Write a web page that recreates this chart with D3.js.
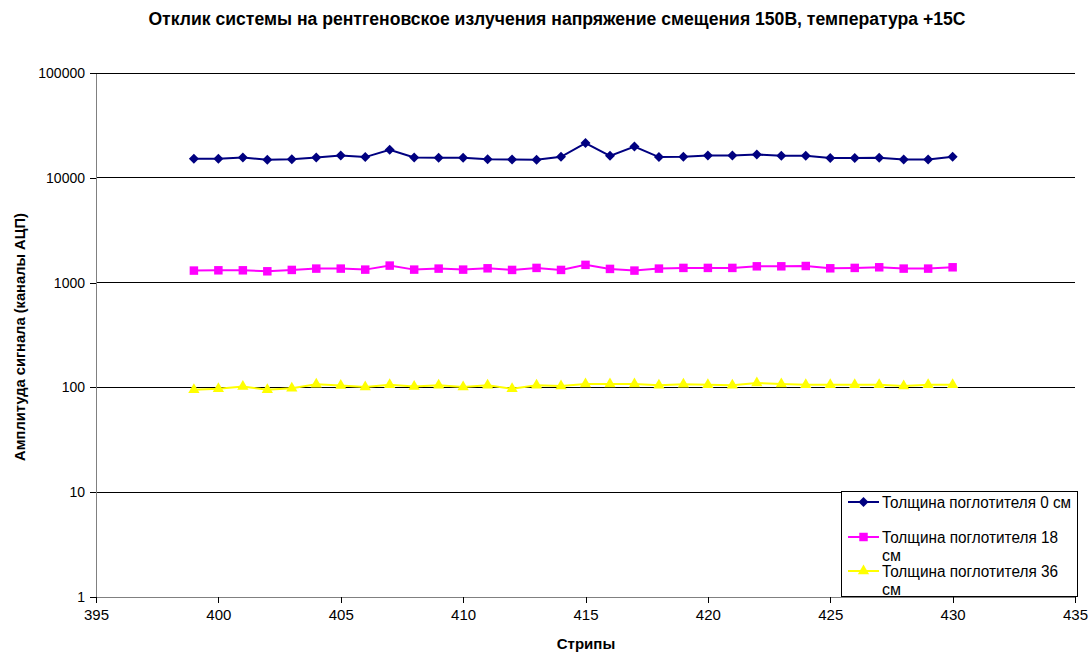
<!DOCTYPE html>
<html>
<head>
<meta charset="utf-8">
<script src="https://cdn.jsdelivr.net/npm/d3@7"></script>
<style>
  html, body { margin: 0; padding: 0; background: #fff; }
  svg { display: block; font-family: "Liberation Sans", Arial, sans-serif; }
</style>
</head>
<body>
<svg id="chart" width="1090" height="654"></svg>
<script>
// Strip numbers along the detector
const strips = [399,400,401,402,403,404,405,406,407,408,409,410,411,412,413,414,
                415,416,417,418,419,420,421,422,423,424,425,426,427,428,429,430];

// Signal amplitude (ADC channels) for each absorber thickness
const absorber0 = [15180,15180,15620,14850,15070,15620,16320,15760,18490,15620,15510,15510,15070,14950,14850,15870,
                   21430,16210,19890,15760,15870,16320,16320,16690,16210,16210,15420,15420,15510,14950,14950,15870];
const absorber18 = [1302,1310,1310,1282,1321,1360,1360,1330,1453,1330,1360,1330,1369,1321,1381,1321,
                    1476,1351,1302,1360,1381,1381,1381,1430,1430,1440,1369,1381,1400,1360,1360,1400];
const absorber36 = [95,97,102,95,98,107,104,101,106,102,105,101,105,97,105,103,
                    108,108,108,105,107,106,105,110,108,106,106,106,106,103,106,106];

const seriesNames = ["Толщина поглотителя 0 см", "Толщина поглотителя 18 см", "Толщина поглотителя 36 см"];
const xTicks = [395,400,405,410,415,420,425,430,435];
const yTicks = [1,10,100,1000,10000,100000];

const svg = d3.select("#chart");
const plot = { left: 96, right: 1075, top: 73, bottom: 597 };

const x = d3.scaleLinear().domain([395, 435]).range([plot.left, plot.right]);
const y = d3.scaleLog().domain([1, 100000]).range([plot.bottom, plot.top]);

// Title
svg.append("text")
  .attr("x", 557).attr("y", 25)
  .attr("text-anchor", "middle")
  .attr("font-size", 17.6).attr("font-weight", "bold")
  .text("Отклик системы на рентгеновское излучения напряжение смещения 150В, температура +15С");

// Horizontal gridlines
svg.append("g").selectAll("line")
  .data(yTicks.filter(d => d > 1))
  .join("line")
  .attr("x1", plot.left).attr("x2", plot.right)
  .attr("y1", d => y(d)).attr("y2", d => y(d))
  .attr("stroke", "#000").attr("stroke-width", 1)
  .attr("shape-rendering", "crispEdges");

// Y axis
const yAxis = svg.append("g")
  .attr("transform", `translate(${plot.left},0)`)
  .call(d3.axisLeft(y).tickValues(yTicks).tickFormat(d3.format("d")).tickSize(6).tickSizeOuter(0));
yAxis.select(".domain").attr("stroke", "#808080").attr("shape-rendering", "crispEdges");
yAxis.selectAll(".tick line").attr("stroke", "#000").attr("shape-rendering", "crispEdges");
yAxis.selectAll(".tick text").attr("font-size", 14).attr("font-family", "Liberation Sans, Arial, sans-serif").attr("fill", "#000").attr("dx", "-2");

// X axis
const xAxis = svg.append("g")
  .attr("transform", `translate(0,${plot.bottom})`)
  .call(d3.axisBottom(x).tickValues(xTicks).tickSize(6).tickSizeOuter(0));
xAxis.select(".domain").attr("stroke", "#808080").attr("shape-rendering", "crispEdges");
xAxis.selectAll(".tick line").attr("stroke", "#000").attr("shape-rendering", "crispEdges");
xAxis.selectAll(".tick text").attr("font-size", 15).attr("font-family", "Liberation Sans, Arial, sans-serif").attr("fill", "#000").attr("dy", "0.95em");

// Axis titles
svg.append("text")
  .attr("x", 586).attr("y", 649)
  .attr("text-anchor", "middle")
  .attr("font-size", 15).attr("font-weight", "bold")
  .text("Стрипы");
svg.append("text")
  .attr("transform", "translate(25,337) rotate(-90)")
  .attr("text-anchor", "middle")
  .attr("font-size", 14.7).attr("font-weight", "bold")
  .text("Амплитуда сигнала (каналы АЦП)");

// Marker shapes: diamond drawn as a rotated square
const series = [
  { name: seriesNames[0], values: absorber0, color: "#000080", symbol: d3.symbolSquare, size: 50, rotate: 45 },
  { name: seriesNames[1], values: absorber18, color: "#FF00FF", symbol: d3.symbolSquare, size: 72, rotate: 0 },
  { name: seriesNames[2], values: absorber36, color: "#FFFF00", symbol: d3.symbolTriangle, size: 55, rotate: 0 }
];

const line = d3.line().x(d => x(d.s)).y(d => y(d.v));

series.forEach(s => {
  const pts = strips.map((st, i) => ({ s: st, v: s.values[i] }));
  const g = svg.append("g");
  g.append("path")
    .datum(pts)
    .attr("d", line)
    .attr("fill", "none")
    .attr("stroke", s.color)
    .attr("stroke-width", 2);
  g.selectAll("path.m")
    .data(pts)
    .join("path")
    .attr("class", "m")
    .attr("transform", d => `translate(${x(d.s)},${y(d.v)}) rotate(${s.rotate})`)
    .attr("d", d3.symbol().type(s.symbol).size(s.size))
    .attr("fill", s.color);
});

// Legend (long names wrap onto a second line)
const legend = svg.append("g");
legend.append("rect")
  .attr("x", 841.5).attr("y", 491.5).attr("width", 236).attr("height", 105)
  .attr("fill", "#fff").attr("stroke", "#000").attr("stroke-width", 1);

const legendRows = [
  { lines: [{ t: "Толщина поглотителя 0 см", w: 189 }], y: 502 },
  { lines: [{ t: "Толщина поглотителя 18", w: 176 }, { t: "см", w: 19 }], y: 537 },
  { lines: [{ t: "Толщина поглотителя 36", w: 176 }, { t: "см", w: 19 }], y: 571 }
];
legendRows.forEach((r, i) => {
  const s = series[i];
  legend.append("line")
    .attr("x1", 848).attr("x2", 879)
    .attr("y1", r.y).attr("y2", r.y)
    .attr("stroke", s.color).attr("stroke-width", 2);
  legend.append("path")
    .attr("transform", `translate(863.5,${r.y}) rotate(${s.rotate})`)
    .attr("d", d3.symbol().type(s.symbol).size(s.size))
    .attr("fill", s.color);
  r.lines.forEach((ln, j) => {
    legend.append("text")
      .attr("x", 882).attr("y", r.y + 6 + j * 18)
      .attr("font-size", 16)
      .attr("textLength", ln.w)
      .attr("lengthAdjust", "spacingAndGlyphs")
      .text(ln.t);
  });
});
</script>
</body>
</html>
